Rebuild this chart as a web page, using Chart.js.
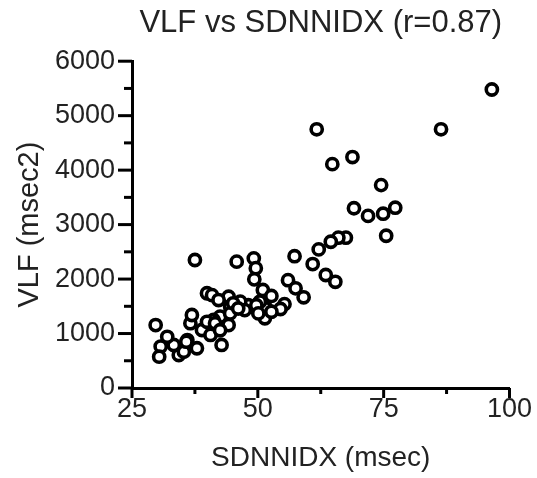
<!DOCTYPE html>
<html><head><meta charset="utf-8">
<script src="https://cdn.jsdelivr.net/npm/chart.js@4"></script>
<style>html,body{margin:0;padding:0;background:#fff}#wrap{width:537px;height:478px;position:relative}</style>
</head><body><div id="wrap"><canvas id="c"></canvas></div>
<script>
const chartTitle = 'VLF vs SDNNIDX (r=0.87)';
const xTitle = 'SDNNIDX (msec)';
const yTitle = 'VLF (msec2)';
const xTickValues = [25, 50, 75, 100];
const xMinorTicks = [37.5, 62.5, 87.5];
const yTickValues = [0, 1000, 2000, 3000, 4000, 5000, 6000];
const yMinorTicks = [500, 1500, 2500, 3500, 4500, 5500];
const sdnnidx = [96.5, 86.4, 61.7, 64.8, 68.8, 74.5, 69.1, 71.9, 74.9, 77.3,
  75.5, 67.5, 66.0, 64.5, 62.1, 57.3, 60.9, 63.5, 65.4, 56.0,
  57.5, 59.1, 55.3, 37.5, 45.8, 49.2, 49.6, 49.3, 51.0, 52.7,
  54.5, 51.7, 51.4, 50.4, 48.1, 46.5, 44.5, 44.2, 39.9, 40.9,
  42.2, 42.5, 44.2, 42.8, 38.9, 36.6, 36.9, 41.2, 40.6, 37.9,
  36.0, 34.3, 33.3, 32.0, 29.7, 30.7, 30.4, 35.3, 39.9, 41.5,
  44.5, 45.1, 47.4, 49.7, 52.7, 35.8, 50.1, 46.1, 42.5];
const vlf = [5480, 4750, 4750, 4110, 4240, 3725, 3300, 3160, 3200, 3310,
  2795, 2760, 2760, 2685, 2545, 2420, 2275, 2075, 1950, 1980,
  1830, 1665, 1540, 2350, 2320, 2380, 2200, 1995, 1800, 1690,
  1450, 1460, 1280, 1585, 1520, 1585, 1490, 1675, 1740, 1705,
  1615, 1310, 1155, 790, 1065, 1190, 1340, 1250, 975, 730,
  880, 605, 790, 940, 1155, 760, 575, 665, 1215, 1190,
  1370, 1555, 1430, 1520, 1400, 850, 1370, 1460, 1060];

const FONT = "'Liberation Sans', Arial, Helvetica, sans-serif";
const TEXT = '#222';

const tickMarks = {
  id: 'tickMarks',
  afterDraw(chart) {
    const ctx = chart.ctx, xs = chart.scales.x, ys = chart.scales.y;
    const left = chart.chartArea.left, bottom = chart.chartArea.bottom;
    ctx.save();
    ctx.strokeStyle = '#000';
    ctx.lineWidth = 3;
    ctx.lineCap = 'butt';
    const seg = (x1, y1, x2, y2) => { ctx.beginPath(); ctx.moveTo(x1, y1); ctx.lineTo(x2, y2); ctx.stroke(); };
    yTickValues.forEach(v => { const p = ys.getPixelForValue(v); seg(left - 14, p, left, p); });
    yMinorTicks.forEach(v => { const p = ys.getPixelForValue(v); seg(left - 8, p, left, p); });
    xTickValues.forEach(v => { const p = xs.getPixelForValue(v); seg(p, bottom, p, bottom + 10); });
    xMinorTicks.forEach(v => { const p = xs.getPixelForValue(v); seg(p, bottom, p, bottom + 6); });
    ctx.restore();
  }
};

new Chart(document.getElementById('c'), {
  type: 'scatter',
  data: {
    datasets: [{
      data: sdnnidx.map((x, i) => ({ x: x, y: vlf[i] })),
      pointRadius: 5.6,
      pointBorderWidth: 3.6,
      borderColor: '#000',
      backgroundColor: '#fff',
      pointHoverRadius: 5.6
    }]
  },
  options: {
    responsive: true,
    maintainAspectRatio: false,
    animation: false,
    layout: { padding: { left: 13, right: 25, top: 4, bottom: 3 } },
    plugins: {
      legend: { display: false },
      tooltip: { enabled: false },
      title: {
        display: true, text: chartTitle, fullSize: false,
        color: TEXT, font: { family: FONT, size: 31, weight: 'normal' },
        padding: { top: 1, bottom: 19 }
      }
    },
    scales: {
      x: {
        type: 'linear', min: 25, max: 100,
        afterBuildTicks: s => { s.ticks = xTickValues.map(v => ({ value: v })); },
        afterFit: s => { s.height = 478 - 3 - 388; },
        grid: { display: false, drawTicks: false },
        border: { display: true, color: '#000', width: 3 },
        ticks: { color: TEXT, font: { family: FONT, size: 27 }, padding: 5, autoSkip: false, maxRotation: 0, callback: v => String(v) },
        title: { display: true, text: xTitle, color: TEXT, font: { family: FONT, size: 28 }, padding: 0 }
      },
      y: {
        type: 'linear', min: 0, max: 6000,
        afterBuildTicks: s => { s.ticks = yTickValues.map(v => ({ value: v })); },
        afterFit: s => { s.width = 132 - 13; },
        grid: { display: false, drawTicks: false },
        border: { display: true, color: '#000', width: 3 },
        ticks: { color: TEXT, font: { family: FONT, size: 27 }, padding: 17, autoSkip: false, callback: v => String(v) },
        title: { display: true, text: yTitle, color: TEXT, font: { family: FONT, size: 29 }, padding: 0 }
      }
    }
  },
  plugins: [tickMarks]
});
</script>
</body></html>
